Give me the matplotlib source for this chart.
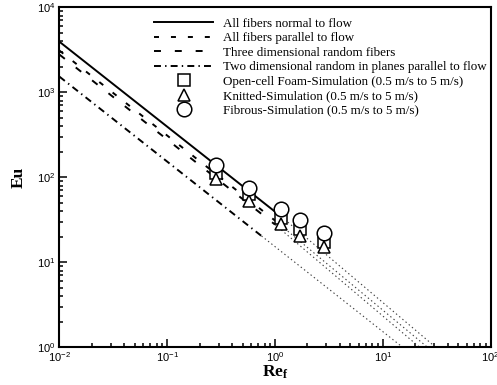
import matplotlib
matplotlib.use("Agg")
import matplotlib.pyplot as plt

# simulation points (Re_f for 0.5, 1, 2, 3, 5 m/s)
re_sim = [0.285, 0.57, 1.14, 1.71, 2.85]
eu_foam = [111, 63, 33.6, 24.5, 17.1]
eu_knit = [96, 52.6, 28.1, 20.5, 15.0]
eu_fibrous = [141, 75.5, 42.1, 31.2, 22.0]

# model lines: [start, end of validity, end of dotted extension]
normal_re = [0.01, 1.15, 31]
normal_eu = [3940, 34.3, 1.0]
parallel_re = [0.01, 1.0, 26]
parallel_eu = [3100, 31.0, 1.0]
random3d_re = [0.01, 1.0, 22]
random3d_eu = [2780, 27.8, 1.0]
random2d_re = [0.01, 0.75, 15.3]
random2d_eu = [1530, 20.4, 1.0]

plt.rcParams["font.family"] = "Liberation Sans"
plt.rcParams["mathtext.default"] = "regular"
plt.rcParams["lines.scale_dashes"] = False

fig = plt.figure(figsize=(4.97, 3.85), dpi=100)
ax = fig.add_axes([0.1195, 0.098, 0.8675, 0.883])

lw = 1.4
ax.plot(normal_re[:2], normal_eu[:2], color="k", lw=lw, ls="-",
        label="All fibers normal to flow")
ax.plot(parallel_re[:2], parallel_eu[:2], color="k", lw=lw, ls=(0, (3.6, 8.6)),
        label="All fibers parallel to flow")
ax.plot(random3d_re[:2], random3d_eu[:2], color="k", lw=lw, ls=(0, (5, 10)),
        label="Three dimensional random fibers")
ax.plot(random2d_re[:2], random2d_eu[:2], color="k", lw=lw, ls=(0, (5, 3, 1, 3)),
        label="Two dimensional random in planes parallel to flow")

# dotted extrapolations
for r, e in [(normal_re, normal_eu), (parallel_re, parallel_eu),
             (random3d_re, random3d_eu), (random2d_re, random2d_eu)]:
    ax.plot(r[1:], e[1:], color="0.25", lw=0.8, ls=(0, (1, 2)))

mk = dict(ls="none", mfc="white", mec="k", mew=1.1)
ax.plot(re_sim, eu_foam, marker="s", ms=8,
        label="Open-cell Foam-Simulation (0.5 m/s to 5 m/s)", **mk)
ax.plot(re_sim, eu_knit, marker="^", ms=8.5,
        label="Knitted-Simulation (0.5 m/s to 5 m/s)", **mk)
ax.plot(re_sim, eu_fibrous, marker="o", ms=10.5,
        label="Fibrous-Simulation (0.5 m/s to 5 m/s)", **mk)

ax.set_xscale("log")
ax.set_yscale("log")
ax.set_xlim(1e-2, 1e2)
ax.set_ylim(1e0, 1e4)

for s in ax.spines.values():
    s.set_linewidth(1.5)
ax.tick_params(which="both", direction="in", top=False, right=False,
               width=1.1, labelsize=8)
ax.tick_params(which="major", length=6)
ax.tick_params(which="minor", length=3)
ax.tick_params(axis="x", pad=2)
ax.tick_params(axis="y", pad=3)

ax.set_xlabel("Re$_f$", family="Liberation Serif", fontweight="bold",
              fontsize=12.5, labelpad=0)
ax.set_ylabel("Eu", family="Liberation Serif", fontweight="bold",
              fontsize=12.5, labelpad=7)

ax.legend(loc="upper left", bbox_to_anchor=(0.208, 0.985), frameon=False,
          prop={"family": "Liberation Serif", "size": 9.4},
          handlelength=4.5, handletextpad=0.75, labelspacing=0.18,
          borderaxespad=0, numpoints=1)

fig.savefig("out.png", dpi=100)
